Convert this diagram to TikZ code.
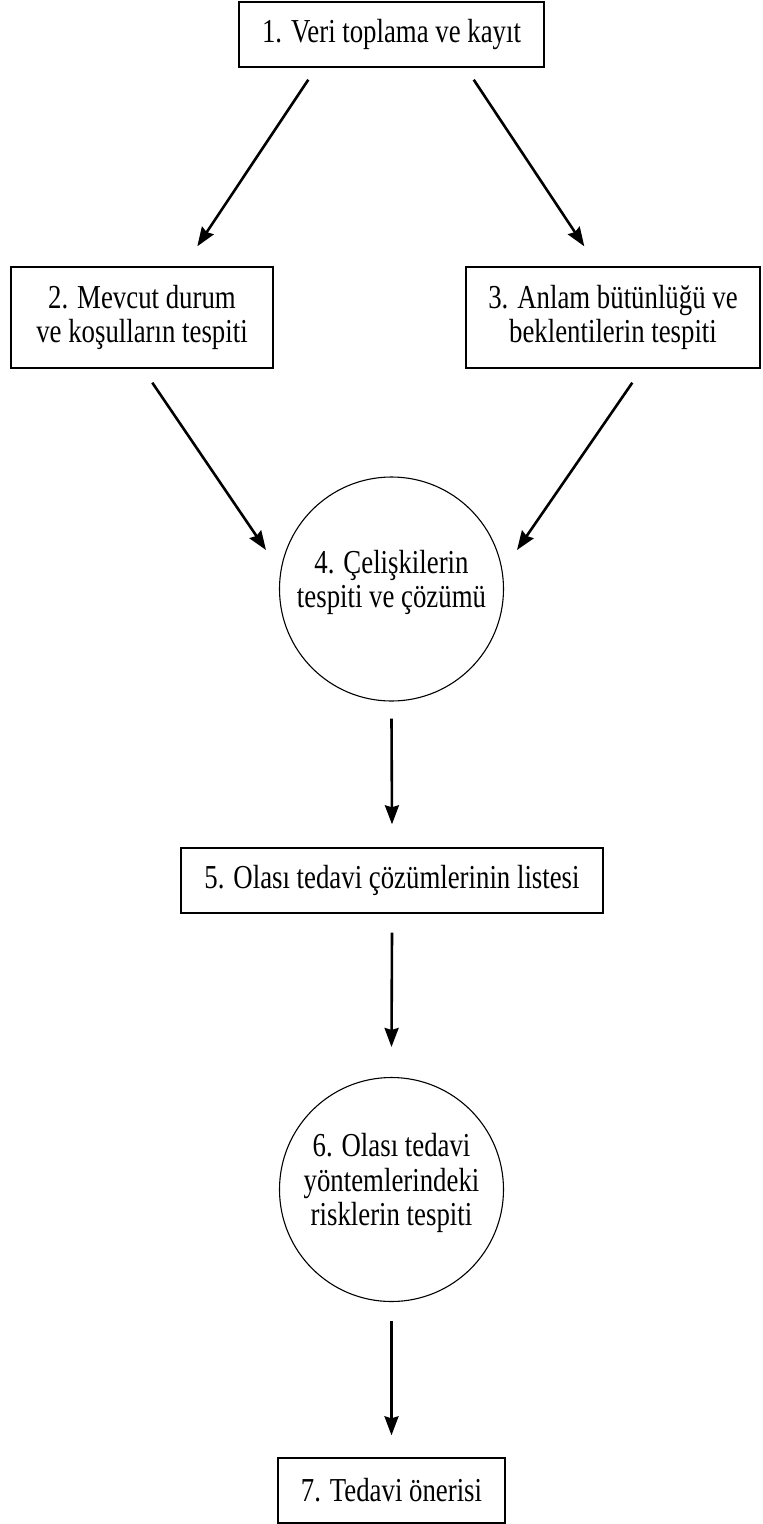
\documentclass[tikz,border=0pt]{standalone}
\usepackage{fontspec}
\setmainfont{Liberation Serif}[FakeStretch=0.80]
\usetikzlibrary{arrows.meta}
\begin{document}
\begin{tikzpicture}[x=1pt,y=-1pt,
  every node/.style={font=\fontsize{33.5pt}{34.5pt}\selectfont, align=center, inner sep=0pt},
  stepbox/.style={draw, line width=1.4pt, rectangle},
  stepcircle/.style={draw, line width=1.1pt, circle, minimum size=224pt, text depth=20pt},
  flow/.style={line width=2.6pt, -{Stealth[length=19pt,width=14pt,inset=2pt]}}
]
\useasboundingbox (0,0) rectangle (763,1524);

\node[stepbox, minimum width=305pt, minimum height=65pt] (n1) at (391.5,34.5) {1. Veri toplama ve kayıt};
\node[stepbox, minimum width=262pt, minimum height=101pt] (n2) at (142,317.5) {2. Mevcut durum\\ve koşulların tespiti};
\node[stepbox, minimum width=294pt, minimum height=101pt] (n3) at (613,317.5) {3. Anlam bütünlüğü ve\\beklentilerin tespiti};
\node[stepcircle] (n4) at (391.5,589) {4. Çelişkilerin\\tespiti ve çözümü};
\node[stepbox, minimum width=422pt, minimum height=65pt] (n5) at (392,880.5) {5. Olası tedavi çözümlerinin listesi};
\node[stepcircle] (n6) at (391.5,1189.5) {6. Olası tedavi\\yöntemlerindeki\\risklerin tespiti};
\node[stepbox, minimum width=227pt, minimum height=65pt] (n7) at (391.5,1490.5) {7. Tedavi önerisi};

\draw[flow] ([shift={(70pt,-12pt)}]n1.south west) -- ([shift={(187pt,20pt)}]n2.north west);
\draw[flow] ([shift={(-71pt,-12pt)}]n1.south east) -- ([shift={(119pt,20pt)}]n3.north west);
\draw[flow] ([shift={(142pt,-14pt)}]n2.south west) -- ([shift={(-125.5pt,39pt)}]n4.center);
\draw[flow] ([shift={(167pt,-14pt)}]n3.south west) -- ([shift={(125.5pt,39pt)}]n4.center);
\draw[flow] ([yshift=-17pt]n4.south) -- ([yshift=23pt]n5.north);
\draw[flow] ([yshift=-19pt]n5.south) -- ([yshift=30pt]n6.north);
\draw[flow] ([yshift=-19pt]n6.south) -- ([yshift=22pt]n7.north);
\end{tikzpicture}
\end{document}
